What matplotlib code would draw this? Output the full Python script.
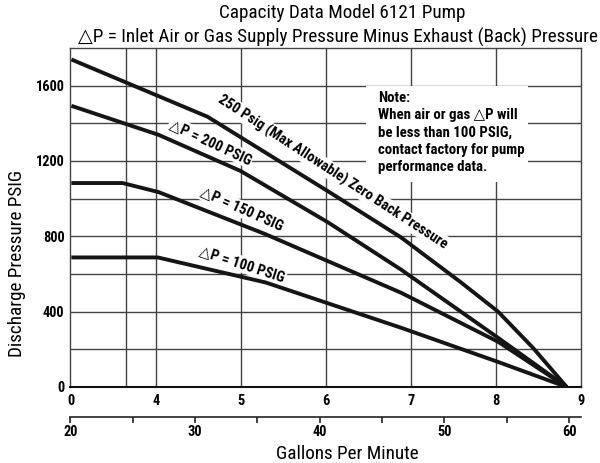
import numpy as np
import matplotlib.pyplot as plt
from matplotlib import font_manager as fm
from matplotlib.patches import Rectangle

# look for a narrow sans face, the chart uses a condensed Helvetica
names = {f.name for f in fm.fontManager.ttflist}
narrow = None
for want in ['Roboto Condensed', 'Liberation Sans Narrow', 'Noto Sans Condensed', 'Open Sans Condensed',
             'DejaVu Sans Condensed']:
    if want in names:
        narrow = want
        break
scale = 1.15
if narrow is None:
    narrow = 'DejaVu Sans'
    scale = 0.82
plt.rcParams['font.family'] = [narrow, 'DejaVu Sans']

# curves: flow in GPM, discharge pressure in PSIG
gpm_250 = [20.08, 31.0, 40.64, 46.5, 51.33, 54.3, 57.11, 59.8]
psi_250 = [1739, 1435, 1040, 795, 555, 400, 207, 0]
gpm_200 = [20.08, 27.07, 33.65, 40.64, 46.5, 54.3, 59.8]
psi_200 = [1493, 1339, 1147, 875, 624, 261, 0]
gpm_150 = [20.08, 24.18, 27.07, 35.66, 46.5, 54.3, 59.8]
psi_150 = [1083, 1083, 1035, 811, 501, 240, 0]
gpm_100 = [20.08, 27.0, 35.66, 46.5, 54.3, 59.8]
psi_100 = [688, 688, 555, 315, 133, 0]

# upper flow scale (labels directly under the grid)
flow_ticks = [3, 4, 5, 6, 7, 8, 9]
flow_labels = ['0', '4', '5', '6', '7', '8', '9']
gpm_major = [20, 30, 40, 50, 60]
gpm_minor = [25, 35, 45, 55]
psi_ticks = [0, 400, 800, 1200, 1600]
psi_grid = [200, 400, 600, 800, 1000, 1200, 1400, 1600]
extra_vgrid = [24.5]


def u2g(u):
    return 20.08 + (np.asarray(u) - 3) * 6.811


fig = plt.figure(figsize=(6, 4.63), dpi=100)
ax = fig.add_axes([70/600, 1-387/463, 511/600, 339/463])
ax.set_xlim(19.97, u2g(9))
ax.set_ylim(0, 1800)

gc = '#444444'
for y in psi_grid:
    ax.axhline(y, color=gc, lw=1.0, zorder=1)
for x in list(u2g(flow_ticks[1:-1])) + extra_vgrid:
    ax.axvline(x, color=gc, lw=1.0, zorder=1)
for s in ['top', 'right', 'left']:
    ax.spines[s].set_color(gc)
    ax.spines[s].set_linewidth(1.0)
ax.spines['bottom'].set_color('#111111')
ax.spines['bottom'].set_linewidth(1.5)

# note box hides the grid
ax.add_patch(Rectangle((43.7, 1088), 13.0, 512, facecolor='white', edgecolor='none', zorder=2))
ax.text(44.66, 1572, 'Note:\nWhen air or gas \u25b3P will\nbe less than 100 PSIG,\ncontact factory for pump\nperformance data.',
        fontsize=9.3*scale, fontweight='bold', ha='left', va='top', linespacing=1.3, zorder=3)

for g, p in [(gpm_250, psi_250), (gpm_200, psi_200), (gpm_150, psi_150), (gpm_100, psi_100)]:
    ax.plot(g, p, color='#151515', lw=2.8, solid_capstyle='butt', solid_joinstyle='round', zorder=4)

lbl = dict(fontsize=9.2*scale, fontweight='bold', ha='center', va='center', rotation_mode='anchor', zorder=3,
           bbox=dict(facecolor='white', edgecolor='none', pad=1))
ax.text(41.04, 1141, '250 Psig (Max Allowable) Zero Back Pressure', rotation=-33, **lbl)
ax.text(31.24, 1301, '\u25b3P = 200 PSIG', rotation=-25, **lbl)
ax.text(33.73, 944, '\u25b3P = 150 PSIG', rotation=-24, **lbl)
ax.text(33.8, 651, '\u25b3P = 100 PSIG', rotation=-18, **lbl)

ax.set_xticks(u2g(flow_ticks))
ax.set_xticklabels(flow_labels, fontweight='bold', fontsize=9*scale)
ax.set_yticks(psi_ticks)
ax.set_yticklabels([str(v) for v in psi_ticks], fontweight='bold', fontsize=9*scale)
ax.tick_params(axis='both', length=0, pad=4)
ax.tick_params(axis='x', pad=5)

# GPM scale below the grid
sec = ax.secondary_xaxis(-0.088)
sec.set_xticks(gpm_major)
sec.set_xticklabels([str(v) for v in gpm_major], fontweight='bold', fontsize=9*scale)
sec.set_xticks(gpm_minor, minor=True)
sec.tick_params(which='both', direction='out', length=4, width=1.2, color='#222222', pad=2)
sec.spines['bottom'].set_linewidth(1.2)
sec.spines['bottom'].set_color('#222222')

fig.text(347/600, 1-454/463, 'Gallons Per Minute', fontsize=12*scale, ha='center', va='center')
fig.text(17/600, 1-263/463, 'Discharge Pressure PSIG', fontsize=12*scale, ha='center', va='center', rotation=90)
fig.text(342/600, 1-13/463, 'Capacity Data Model 6121 Pump', fontsize=12*scale, ha='center', va='center')
fig.text(338/600, 1-37/463, '\u25b3P = Inlet Air or Gas Supply Pressure Minus Exhaust (Back) Pressure',
         fontsize=12*scale, ha='center', va='center')

fig.savefig('out.png', dpi=100)
